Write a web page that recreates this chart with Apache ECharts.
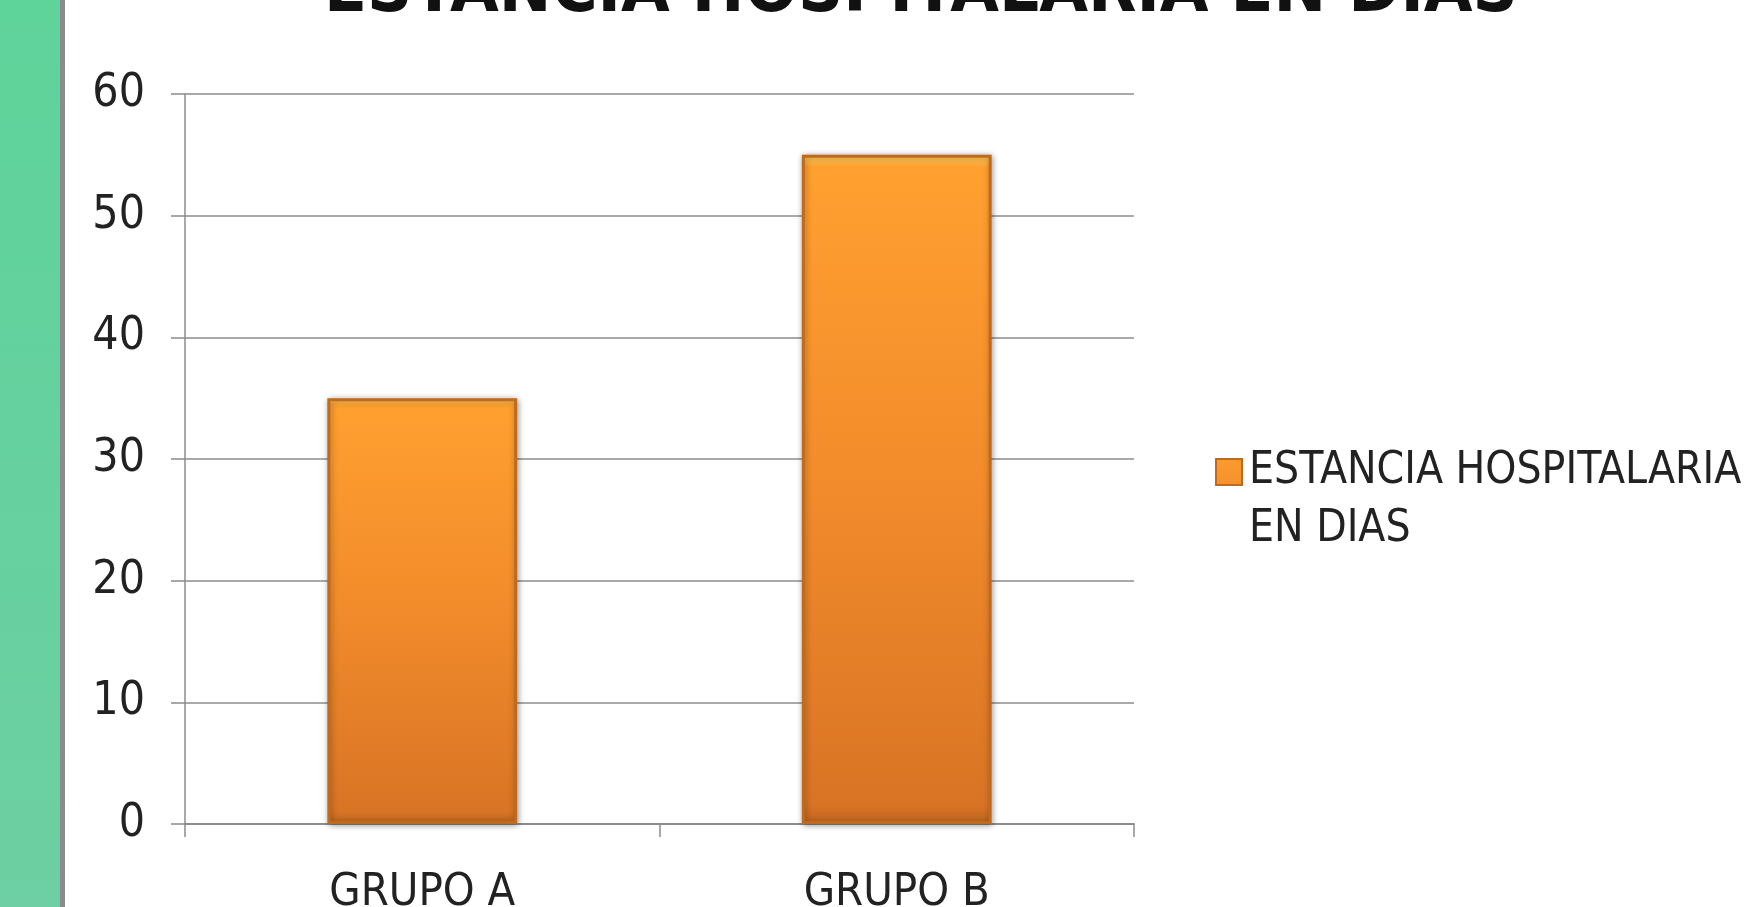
<!DOCTYPE html>
<html>
<head>
<meta charset="utf-8">
<script src="https://cdn.jsdelivr.net/npm/echarts@6/dist/echarts.min.js"></script>
<style>
html,body{margin:0;padding:0;background:#fff;}
#chart{width:1756px;height:907px;}
</style>
</head>
<body>
<div id="chart"></div>
<script>
const titleText = 'ESTANCIA HOSPITALARIA EN DIAS';
const seriesName = 'ESTANCIA HOSPITALARIA\nEN DIAS';
const categories = ['GRUPO A', 'GRUPO B'];
const values = [35, 55];
const yTicks = [0, 10, 20, 30, 40, 50, 60];

const chart = echarts.init(document.getElementById('chart'));
const FONT = '"Liberation Sans Narrow", "DejaVu Sans Condensed", "Liberation Sans", sans-serif';
const barGrad = new echarts.graphic.LinearGradient(0, 0, 0, 1, [
  {offset: 0, color: '#ffd35c'},
  {offset: 0.018, color: '#ffa030'},
  {offset: 0.5, color: '#f28b2b'},
  {offset: 0.97, color: '#d97425'},
  {offset: 1, color: '#c0661f'}
]);
chart.setOption({
  animation: false,
  backgroundColor: '#ffffff',
  graphic: [
    {type: 'rect', left: 0, top: 0, shape: {width: 60, height: 907},
     style: {fill: new echarts.graphic.LinearGradient(0, 0, 0, 1, [
       {offset: 0, color: '#5ed39a'}, {offset: 1, color: '#6dcfa3'}])}, z: 0},
    {type: 'rect', left: 60, top: 0, shape: {width: 5, height: 907},
     style: {fill: '#8c8c8c'}, z: 0},
    {type: 'text', x: 921, y: -42, z: 5,
     style: {text: titleText, font: 'bold 70px ' + FONT, fill: '#111', align: 'center', textAlign: 'center'}}
  ],
  grid: {left: 185, top: 94, width: 949, height: 730, containLabel: false, outerBoundsMode: 'none'},
  legend: {
    show: true,
    left: 1210, top: 437,
    orient: 'vertical',
    itemWidth: 26, itemHeight: 116,
    itemGap: 10,
    icon: 'path://M0,16h26v26h-26z M0,0 L0,0 M0,116 L0,116',
    textStyle: {fontFamily: FONT, fontSize: 44, color: '#222', lineHeight: 58, padding: [0,0,0,2]}
  },
  xAxis: {
    type: 'category',
    data: categories,
    axisLine: {lineStyle: {color: '#8c8c8c', width: 2}},
    axisTick: {show: true, length: 13, lineStyle: {color: '#8c8c8c', width: 1.5}},
    axisLabel: {fontFamily: FONT, fontSize: 45, color: '#222', margin: 47}
  },
  yAxis: {
    type: 'value',
    min: 0, max: 60, interval: 10,
    axisLine: {show: true, lineStyle: {color: '#8c8c8c', width: 1.5}},
    axisTick: {show: true, length: 14, lineStyle: {color: '#8c8c8c', width: 1.5}},
    splitLine: {lineStyle: {color: '#8c8c8c', width: 1.5}},
    axisLabel: {fontFamily: FONT, fontSize: 46, color: '#222', margin: 40,
      formatter: v => yTicks.includes(v) ? String(v) : ''}
  },
  series: [{
    name: seriesName,
    type: 'bar',
    data: values,
    barWidth: '40%',
    itemStyle: {
      color: barGrad,
      borderColor: '#c06a1e',
      borderWidth: 3,
      shadowColor: 'rgba(0,0,0,0.35)',
      shadowBlur: 6,
      shadowOffsetX: 1,
      shadowOffsetY: 1
    }
  }]
});
</script>
</body>
</html>
